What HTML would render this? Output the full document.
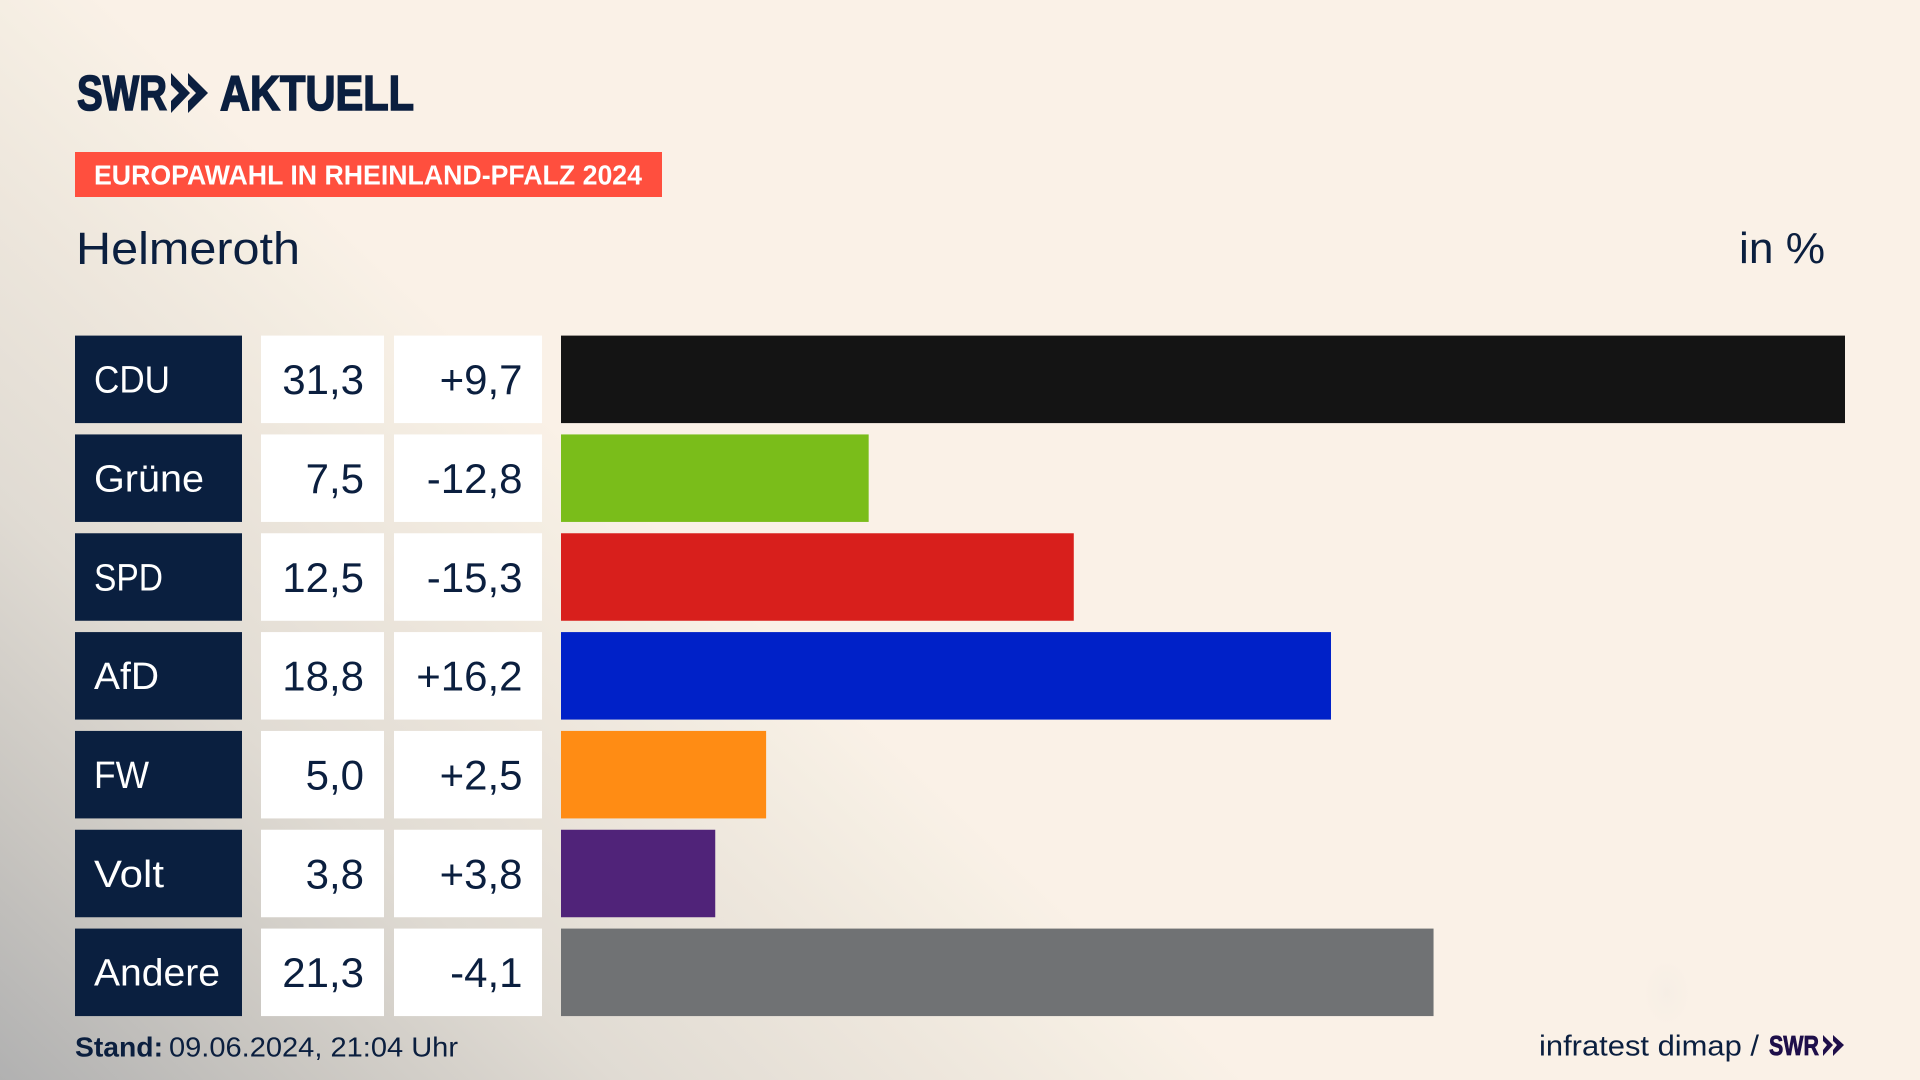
<!DOCTYPE html>
<html lang="de">
<head>
<meta charset="utf-8">
<title>Europawahl in Rheinland-Pfalz 2024 – Helmeroth</title>
<style>
  html, body { margin: 0; padding: 0; width: 1920px; height: 1080px; overflow: hidden; background: #faf1e7; }
  #stage { position: absolute; left: 0; top: 0; width: 1920px; height: 1080px; overflow: hidden;
    background:
      radial-gradient(ellipse 24px 34px at 1667px 993px, rgba(225,222,218,.15) 0%, rgba(225,222,218,0) 100%),
      linear-gradient(223.3deg, #faf1e7 59.2%, #f5eee3 62.7%, #ede6dc 69.6%, #e0dbd3 79.9%, #c9c6c1 90.3%, #b1b1b1 100%); }
  svg { position: absolute; left: 0; top: 0; }
  text { font-family: "Liberation Sans", sans-serif; fill: #0b1f3f; }
  .cell-label { font-size: 38px; fill: #ffffff; }
  .cell-value { font-size: 42px; text-anchor: end; }
  .logo-text { stroke: #0b1f3f; stroke-width: 1.6px; }
</style>
</head>
<body>
<div id="stage">
<svg id="chart" width="1920" height="1080" viewBox="0 0 1920 1080" xmlns="http://www.w3.org/2000/svg">
  <g>
    <text class="logo-text" x="77" y="110" font-size="49" font-weight="700" textLength="90" lengthAdjust="spacingAndGlyphs">SWR</text>
    <polygon points="171,73 190,93 171,113 171,101 179,93 171,85" fill="#0b1f3f"></polygon>
    <polygon points="188,73 208,93 188,113 188,101 196,93 188,85" fill="#0b1f3f"></polygon>
    <text class="logo-text" x="220" y="110" font-size="49" font-weight="700" textLength="194" lengthAdjust="spacingAndGlyphs">AKTUELL</text>
  </g>
  <rect x="75" y="152" width="587" height="45" fill="#ff4f3e"></rect>
  <text x="94" y="184.5" font-size="28" font-weight="700" textLength="548" lengthAdjust="spacingAndGlyphs" style="fill:#fff">EUROPAWAHL IN RHEINLAND-PFALZ 2024</text>
  <text x="76" y="264" font-size="45" textLength="224" lengthAdjust="spacingAndGlyphs">Helmeroth</text>
  <text x="1739" y="263" font-size="44" textLength="86" lengthAdjust="spacingAndGlyphs">in %</text>

  <g id="rows"></g>

  <text x="75" y="1056.5" font-size="28" font-weight="700" textLength="88" lengthAdjust="spacingAndGlyphs">Stand:</text>
  <text x="169" y="1056.5" font-size="28" textLength="289" lengthAdjust="spacingAndGlyphs">09.06.2024, 21:04 Uhr</text>
  <text x="1539" y="1055.5" font-size="29" textLength="220" lengthAdjust="spacingAndGlyphs">infratest dimap /</text>
  <g>
    <text x="1769" y="1055" font-size="28" font-weight="700" textLength="50" lengthAdjust="spacingAndGlyphs" style="fill:#1e0f4a;stroke:#1e0f4a;stroke-width:.8px">SWR</text>
    <polygon points="1823,1035 1833,1045 1823,1056 1823,1050 1827,1045 1823,1041" fill="#1e0f4a"></polygon>
    <polygon points="1833,1035 1844,1045 1833,1056 1833,1050 1837,1045 1833,1041" fill="#1e0f4a"></polygon>
  </g>
</svg>
</div>
<script>
const parties = ["CDU", "Grüne", "SPD", "AfD", "FW", "Volt", "Andere"];
const results = [31.3, 7.5, 12.5, 18.77, 5.0, 3.76, 21.27];
const changes = [9.7, -12.8, -15.3, 16.2, 2.5, 3.8, -4.1];
const partyColors = ["#141414", "#7abd1a", "#d81f1c", "#0021c8", "#ff8c14", "#502379", "#707274"];

const axisMax = 31.3;
const barLeft = 561;
const barRight = 1845;
const rowsTop = 335.6;
const rowsStep = 98.83;
const rowHeight = 87.5;
const labelFit = { "CDU": 76, "Grüne": 110, "SPD": 69, "AfD": 65, "FW": 55, "Volt": 70, "Andere": 126 };

function xScale(value) {
  return barLeft + (value / axisMax) * (barRight - barLeft);
}
function yScale(index) {
  return rowsTop + index * rowsStep;
}
function formatResult(value) {
  return value.toFixed(1).replace(".", ",");
}
function formatChange(value) {
  return (value > 0 ? "+" : "") + value.toFixed(1).replace(".", ",");
}
function svgEl(tag) {
  return document.createElementNS("http://www.w3.org/2000/svg", tag);
}
function rect(parent, x, y, w, h, fill) {
  const r = svgEl("rect");
  r.setAttribute("x", x);
  r.setAttribute("y", y);
  r.setAttribute("width", w);
  r.setAttribute("height", h);
  r.setAttribute("fill", fill);
  parent.appendChild(r);
  return r;
}
function label(parent, x, y, cls, content) {
  const t = svgEl("text");
  t.setAttribute("x", x);
  t.setAttribute("y", y);
  t.setAttribute("class", cls);
  t.textContent = content;
  parent.appendChild(t);
  return t;
}

const rowsGroup = document.getElementById("rows");
parties.forEach(function (party, i) {
  const y = yScale(i);
  const key = party.toLowerCase().replace("ü", "ue");

  const row = svgEl("g");
  
  
  rowsGroup.appendChild(row);

  const labelBox = rect(row, 75, y, 167, rowHeight, "#0a1f3f");
  
  

  const labelText = label(row, 94, y + 57, "cell-label", party);
  labelText.setAttribute("textLength", labelFit[party]);
  labelText.setAttribute("lengthAdjust", "spacingAndGlyphs");
  
  

  const valueBox = rect(row, 261, y, 123, rowHeight, "#ffffff");
  
  

  const valueText = label(row, 364, y + 58.5, "cell-value", formatResult(results[i]));
  
  

  const changeBox = rect(row, 394, y, 148, rowHeight, "#ffffff");
  
  

  const changeText = label(row, 522.5, y + 58.5, "cell-value", formatChange(changes[i]));
  
  

  const bar = rect(row, xScale(0), y, xScale(results[i]) - xScale(0), rowHeight, partyColors[i]);
  
  
});
</script>
</body>
</html>
